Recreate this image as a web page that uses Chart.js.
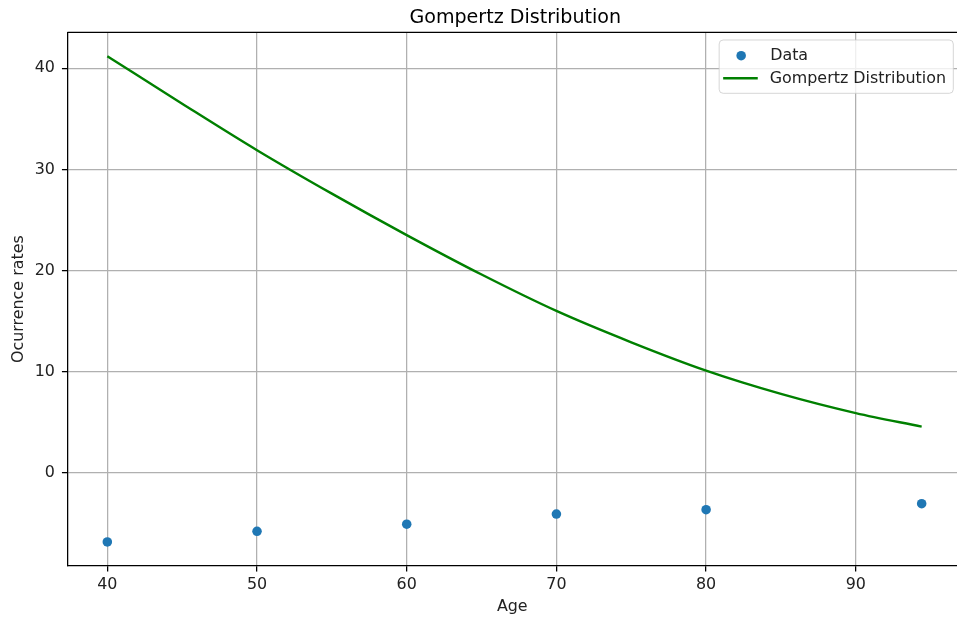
<!DOCTYPE html>
<html>
<head>
<meta charset="utf-8">
<title>Gompertz Distribution</title>
<script src="https://cdn.jsdelivr.net/npm/chart.js@4.4.1/dist/chart.umd.min.js"></script>
<style>
  html, body { margin: 0; padding: 0; background: #ffffff; }
  canvas { display: block; }
</style>
</head>
<body>
<canvas id="chart" width="957" height="622"></canvas>
<script>
// Observed occurrence rates by age
const ages = [40, 50, 60, 70, 80, 94.4];
const rates = [-6.85, -5.80, -5.10, -4.09, -3.66, -3.07];

// Fitted Gompertz curve, sampled along the age range
const fitAges = [40, 45, 50, 55, 60, 65, 70, 75, 80, 85, 90, 94.4];
const fitRates = [41.2, 36.5, 31.9, 27.6, 23.5, 19.6, 16.0, 12.9, 10.1, 7.8, 5.9, 4.55];

// Axis ticks and text
const xTicks = [40, 50, 60, 70, 80, 90];
const yTicks = [0, 10, 20, 30, 40];
const chartTitle = 'Gompertz Distribution';
const xLabel = 'Age';
const yLabel = 'Ocurrence rates';
const seriesNames = ['Data', 'Gompertz Distribution'];

const FONT = "'DejaVu Sans', 'Liberation Sans', sans-serif";
const PT = 1.59;               // pixels per point
const TICK_PX = 10 * PT;       // tick / legend font size
const TITLE_PX = 12 * PT;      // title font size
const BLUE = '#1f77b4';
const GREEN = '#008000';

// Title, top spine and in-plot legend
const decorations = {
  id: 'decorations',
  afterDraw(chart) {
    const { ctx, chartArea } = chart;
    const xs = chart.scales.x;
    ctx.save();

    // top spine
    ctx.strokeStyle = '#000';
    ctx.lineWidth = 0.8 * PT;
    ctx.beginPath();
    ctx.moveTo(chartArea.left, chartArea.top);
    ctx.lineTo(chartArea.right, chartArea.top);
    ctx.stroke();

    // title, centred over the axes
    ctx.fillStyle = '#000';
    ctx.font = `${TITLE_PX}px ${FONT}`;
    ctx.textAlign = 'center';
    ctx.textBaseline = 'alphabetic';
    ctx.fillText(chartTitle, xs.getPixelForValue(67.25), chartArea.top - 9);

    // legend
    ctx.font = `${TICK_PX}px ${FONT}`;
    const textW = Math.max(...seriesNames.map(s => ctx.measureText(s).width));
    const right = chartArea.right - 3.7;
    const left = right - (50.6 + textW + 7.3);
    const top = chartArea.top + 7.7;
    const bottom = top + 53.3;
    ctx.beginPath();
    ctx.roundRect(left, top, right - left, bottom - top, 4);
    ctx.fillStyle = 'rgba(255,255,255,0.8)';
    ctx.fill();
    ctx.strokeStyle = 'rgba(204,204,204,0.8)';
    ctx.lineWidth = 1;
    ctx.stroke();

    // scatter handle
    ctx.fillStyle = BLUE;
    ctx.beginPath();
    ctx.arc(left + 22, top + 15.7, 3 * PT, 0, Math.PI * 2);
    ctx.fill();

    // line handle
    ctx.strokeStyle = GREEN;
    ctx.lineWidth = 1.5 * PT;
    ctx.beginPath();
    ctx.moveTo(left + 4, top + 38.3);
    ctx.lineTo(left + 38.6, top + 38.3);
    ctx.stroke();

    ctx.fillStyle = '#222';
    ctx.textAlign = 'left';
    ctx.textBaseline = 'alphabetic';
    ctx.fillText(seriesNames[0], left + 51, top + 20);
    ctx.fillText(seriesNames[1], left + 50.6, top + 43.3);

    ctx.restore();
  }
};

new Chart(document.getElementById('chart'), {
  type: 'scatter',
  data: {
    datasets: [
      {
        label: seriesNames[0],
        data: ages.map((a, i) => ({ x: a, y: rates[i] })),
        backgroundColor: BLUE,
        borderColor: BLUE,
        pointRadius: 3 * PT,
        pointHoverRadius: 3 * PT,
        borderWidth: 0,
        order: 1
      },
      {
        label: seriesNames[1],
        type: 'line',
        data: fitAges.map((a, i) => ({ x: a, y: fitRates[i] })),
        borderColor: GREEN,
        backgroundColor: GREEN,
        borderWidth: 1.5 * PT,
        pointRadius: 0,
        showLine: true,
        fill: false,
        cubicInterpolationMode: 'monotone',
        order: 2
      }
    ]
  },
  options: {
    responsive: false,
    animation: false,
    devicePixelRatio: 1,
    layout: { autoPadding: false, padding: { top: 32.3, left: 0, right: 0, bottom: 0 } },
    plugins: {
      legend: { display: false },
      title: { display: false },
      tooltip: { enabled: false }
    },
    scales: {
      x: {
        type: 'linear',
        min: 37.34,
        max: 96.76,
        afterBuildTicks: s => { s.ticks = xTicks.map(v => ({ value: v })); },
        afterFit: s => { s.height = 56; s.paddingLeft = 0; s.paddingRight = 0; },
        ticks: {
          color: '#222',
          font: { family: FONT, size: TICK_PX },
          padding: 4,
          maxRotation: 0,
          callback: v => String(v)
        },
        grid: {
          color: '#b0b0b0',
          lineWidth: 0.8 * PT,
          tickColor: '#000',
          tickLength: 3.5 * PT,
          drawOnChartArea: true
        },
        border: { display: true, color: '#000', width: 0.8 * PT },
        title: {
          display: true,
          text: xLabel,
          color: '#222',
          font: { family: FONT, size: TICK_PX },
          padding: { top: 0, bottom: 6 }
        }
      },
      y: {
        type: 'linear',
        min: -9.23,
        max: 43.56,
        afterBuildTicks: s => { s.ticks = yTicks.map(v => ({ value: v })); },
        afterFit: s => { s.width = 67.5; },
        ticks: {
          color: '#222',
          font: { family: FONT, size: TICK_PX },
          padding: 7,
          callback: v => String(v)
        },
        grid: {
          color: '#b0b0b0',
          lineWidth: 0.8 * PT,
          tickColor: '#000',
          tickLength: 3.5 * PT
        },
        border: { display: true, color: '#000', width: 0.8 * PT },
        title: {
          display: true,
          text: yLabel,
          color: '#222',
          font: { family: FONT, size: TICK_PX },
          padding: { top: 9.5, bottom: 0 }
        }
      }
    }
  },
  plugins: [decorations]
});
</script>
</body>
</html>
